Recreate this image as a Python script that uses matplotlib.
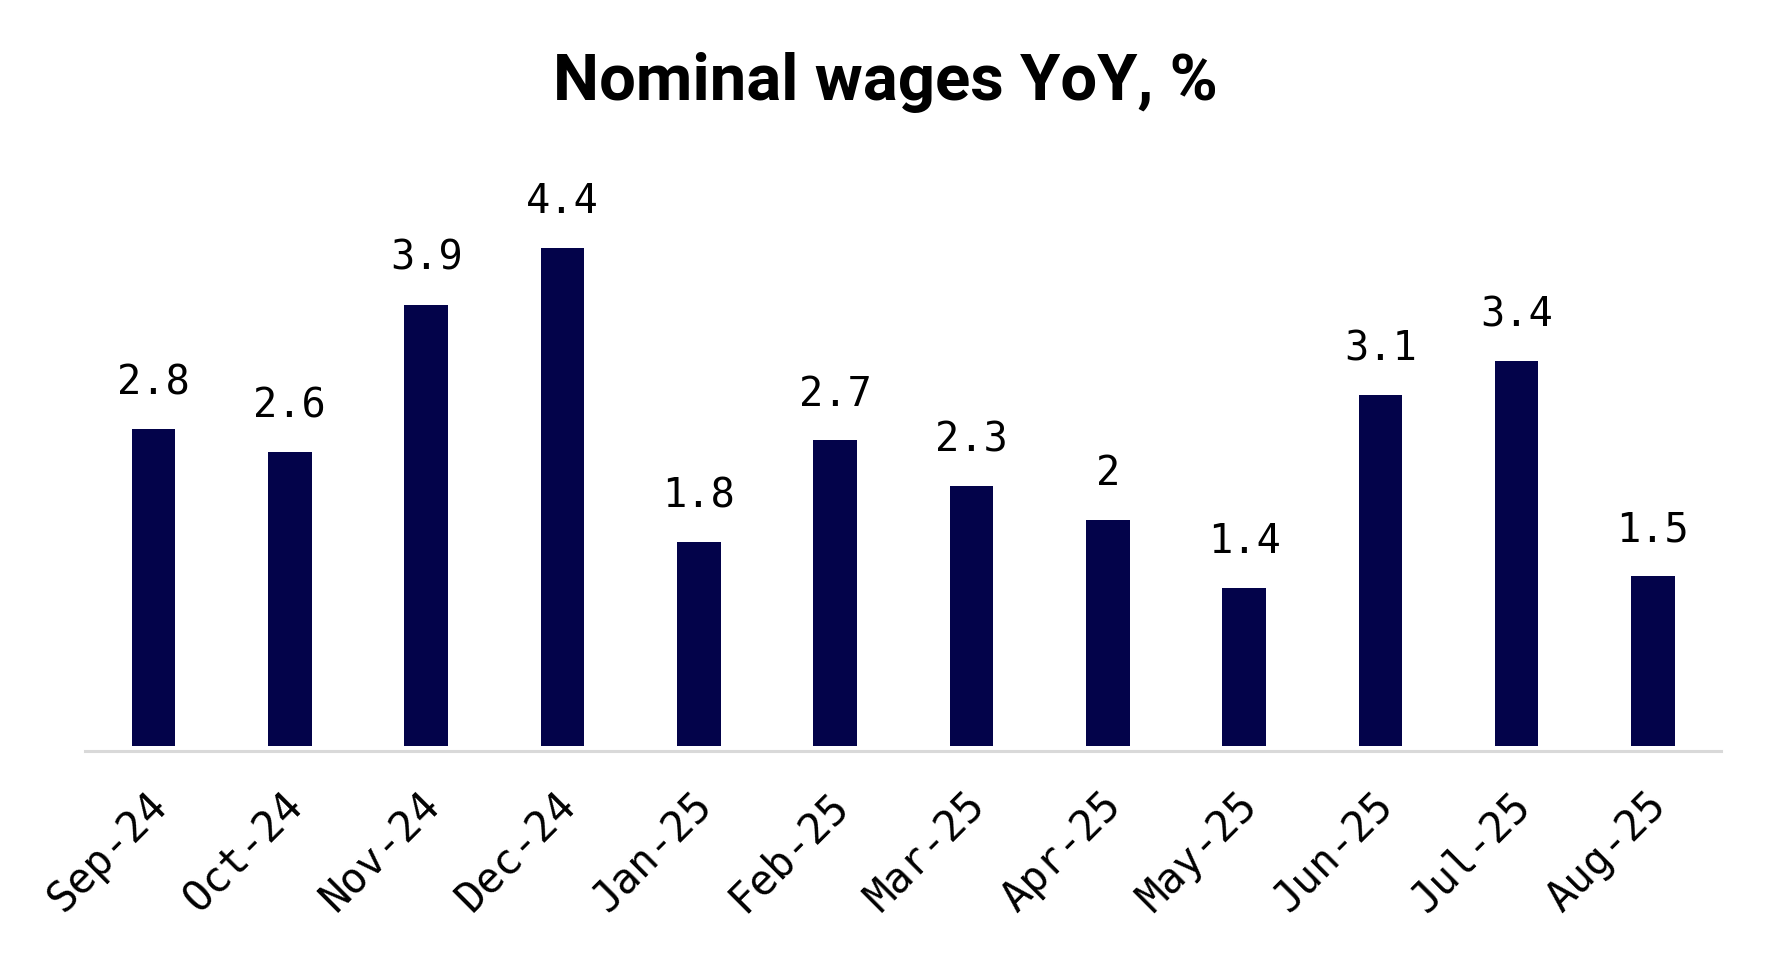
import matplotlib.pyplot as plt
import matplotlib.transforms as mtransforms

# data
months = ['Sep-24', 'Oct-24', 'Nov-24', 'Dec-24', 'Jan-25', 'Feb-25',
          'Mar-25', 'Apr-25', 'May-25', 'Jun-25', 'Jul-25', 'Aug-25']
wages_yoy = [2.8, 2.6, 3.9, 4.4, 1.8, 2.7, 2.3, 2.0, 1.4, 3.1, 3.4, 1.5]

bar_color = '#03034a'
mono = ['DejaVu Sans Mono']

fig = plt.figure(figsize=(17.78, 9.57), dpi=100)
ax = fig.add_axes([0.048, 0.2153, 0.92, 0.62])

x = range(len(months))
ax.bar(x, wages_yoy, width=0.32, color=bar_color)

# value labels above bars
for i, v in zip(x, wages_yoy):
    ax.annotate('{:g}'.format(v), (i, v), xytext=(0, 25), textcoords='offset points',
                ha='center', va='baseline', fontsize=29, family=mono)

ax.set_xlim(-0.5, len(months) - 0.5)
ax.set_ylim(-0.044, 5.2)
ax.set_xticks(list(x))
ax.set_xticklabels(months, rotation=45, ha='right', rotation_mode='anchor',
                   fontsize=30, family=mono)
ax.tick_params(axis='x', length=0, pad=24)
shift = mtransforms.ScaledTranslation(-0.08, 0, fig.dpi_scale_trans)
for lab in ax.get_xticklabels():
    lab.set_transform(lab.get_transform() + shift)
ax.set_yticks([])

for s in ['top', 'right', 'left']:
    ax.spines[s].set_visible(False)
ax.spines['bottom'].set_color('#d9d9d9')
ax.spines['bottom'].set_linewidth(2.2)

fig.text(0.498, 0.895, 'Nominal wages YoY, %', ha='center', va='baseline',
         fontsize=47, fontweight='bold', family=['Roboto', 'DejaVu Sans'])

plt.savefig('out.png', dpi=100)
